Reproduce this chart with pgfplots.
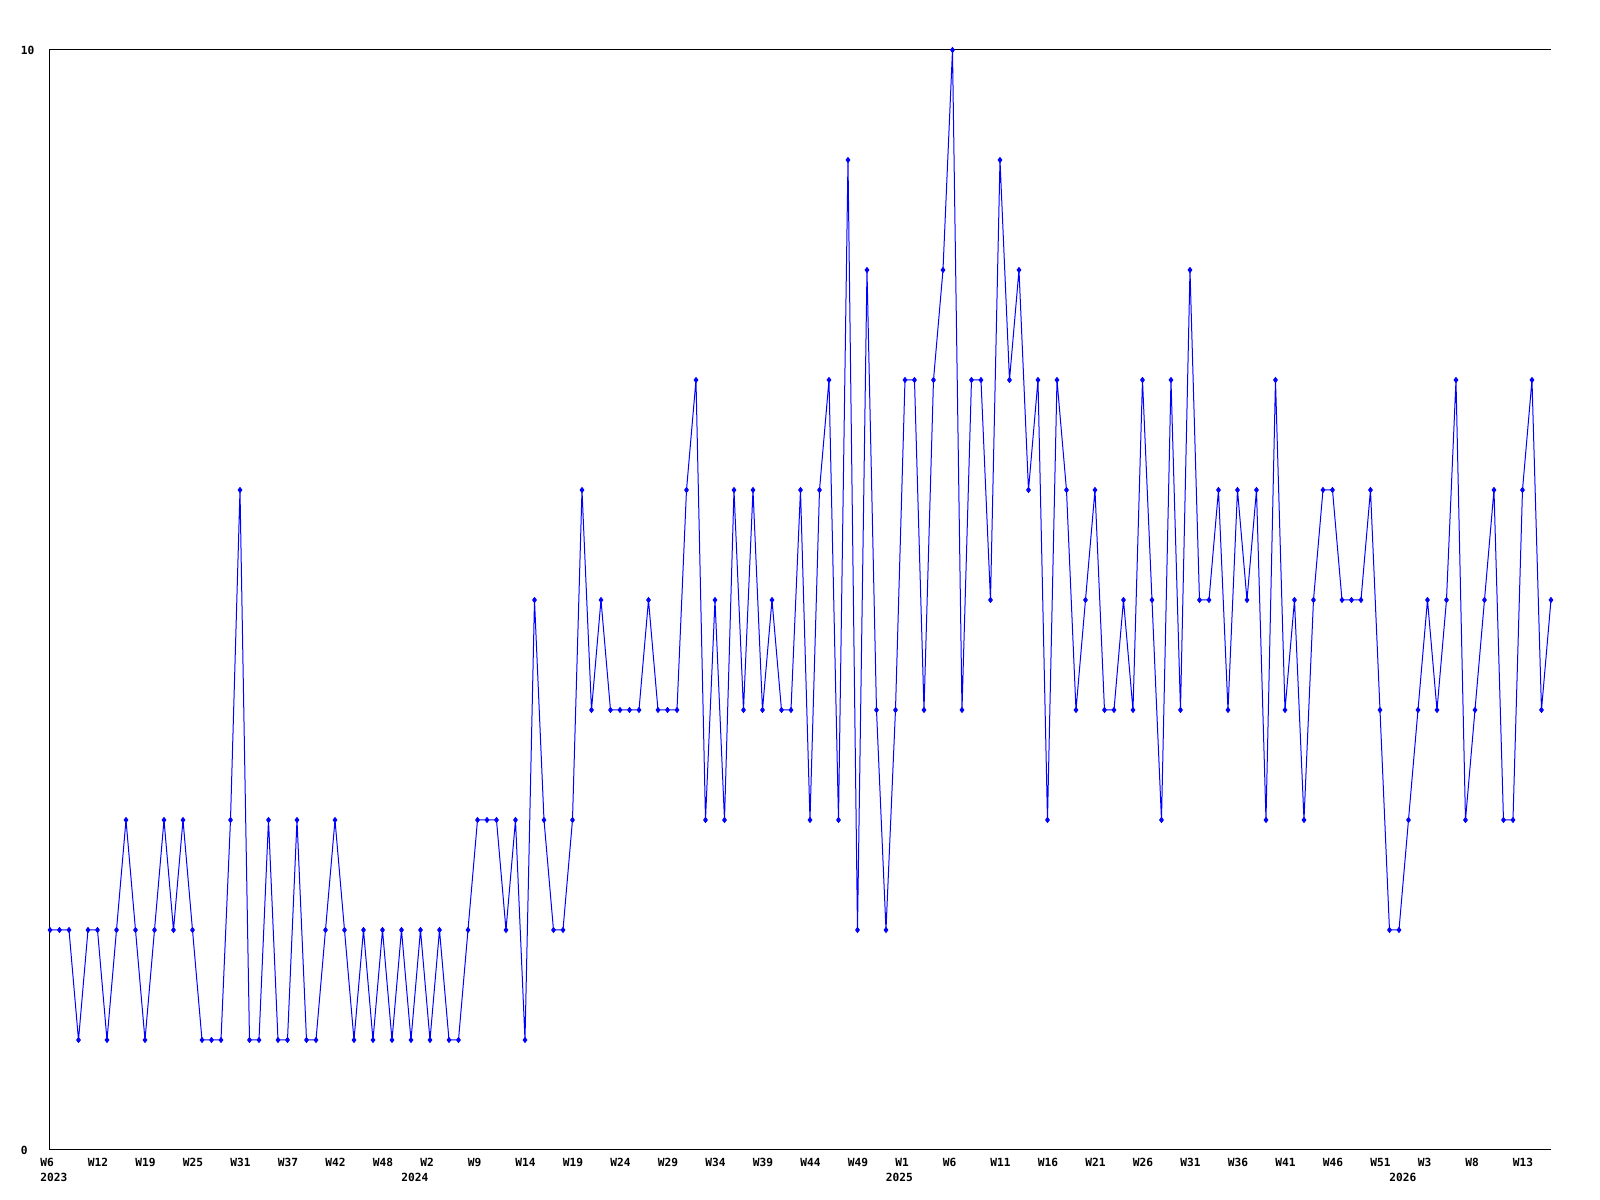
\documentclass[border=0pt]{standalone}
\usepackage{fontspec}
\setmainfont{DejaVu Sans Mono}
\usepackage{pgfplots}
\pgfplotsset{compat=1.18}
\definecolor{lineblue}{RGB}{0,0,255}
\begin{document}
\begin{tikzpicture}
\path[use as bounding box] (-12.5pt,-12.5pt) rectangle (387.5pt,287.5pt);
\begin{axis}[
  at={(0,0)}, anchor=south west,
  scale only axis, width=375.25pt, height=275pt,
  xmin=0, xmax=158, ymin=0, ymax=10,
  clip=false,
  axis line style={draw=none},
  major tick length=0pt,
  /pgf/number format/assume math mode=true,
  tick label style={font=\fontsize{2.8}{3.2}\selectfont\bfseries, inner sep=0pt},
  xtick={0,5,...,155},
  xticklabels={W6,W12,W19,W25,W31,W37,W42,W48,W2,W9,W14,W19,W24,W29,W34,W39,W44,W49,W1,W6,W11,W16,W21,W26,W31,W36,W41,W46,W51,W3,W8,W13},
  xticklabel style={anchor=north west, xshift=-2.6pt, yshift=-1.8pt},
  extra x ticks={0,38,89,142},
  extra x tick labels={2023,2024,2025,2026},
  extra x tick style={xticklabel style={yshift=-3.75pt}},
  ytick={0,10},
  yticklabels={0,10},
  yticklabel style={anchor=west, xshift=-7.5pt},
]
\draw[black, line width=0.25pt] (rel axis cs:1,1) -- (rel axis cs:0,1) -- (rel axis cs:0,0) -- (rel axis cs:1,0);
\addplot[lineblue, line width=0.25pt, mark=diamond*, mark size=0.6pt, mark options={fill=lineblue, draw=lineblue}] coordinates {
(0,2)(1,2)(2,2)(3,1)(4,2)(5,2)(6,1)(7,2)(8,3)(9,2)
(10,1)(11,2)(12,3)(13,2)(14,3)(15,2)(16,1)(17,1)(18,1)(19,3)
(20,6)(21,1)(22,1)(23,3)(24,1)(25,1)(26,3)(27,1)(28,1)(29,2)
(30,3)(31,2)(32,1)(33,2)(34,1)(35,2)(36,1)(37,2)(38,1)(39,2)
(40,1)(41,2)(42,1)(43,1)(44,2)(45,3)(46,3)(47,3)(48,2)(49,3)
(50,1)
(51,5)(52,3)(53,2)(54,2)(55,3)(56,6)(57,4)(58,5)(59,4)(60,4)
(61,4)(62,4)(63,5)(64,4)(65,4)(66,4)(67,6)(68,7)(69,3)(70,5)
(71,3)(72,6)(73,4)(74,6)(75,4)(76,5)(77,4)(78,4)(79,6)(80,3)
(81,6)(82,7)(83,3)(84,9)(85,2)(86,8)
(87,4)(88,2)(89,4)(90,7)(91,7)(92,4)(93,7)(94,8)(95,10)(96,4)
(97,7)(98,7)(99,5)(100,9)(101,7)(102,8)(103,6)(104,7)(105,3)(106,7)
(107,6)(108,4)(109,5)(110,6)(111,4)(112,4)(113,5)(114,4)(115,7)(116,5)
(117,3)(118,7)(119,4)(120,8)(121,5)(122,5)(123,6)
(124,4)(125,6)(126,5)(127,6)(128,3)(129,7)(130,4)(131,5)(132,3)(133,5)
(134,6)(135,6)(136,5)(137,5)(138,5)(139,6)(140,4)(141,2)(142,2)(143,3)
(144,4)(145,5)(146,4)(147,5)(148,7)(149,3)(150,4)(151,5)(152,6)(153,3)
(154,3)(155,6)(156,7)(157,4)(158,5)
};
\end{axis}
\end{tikzpicture}
\end{document}
